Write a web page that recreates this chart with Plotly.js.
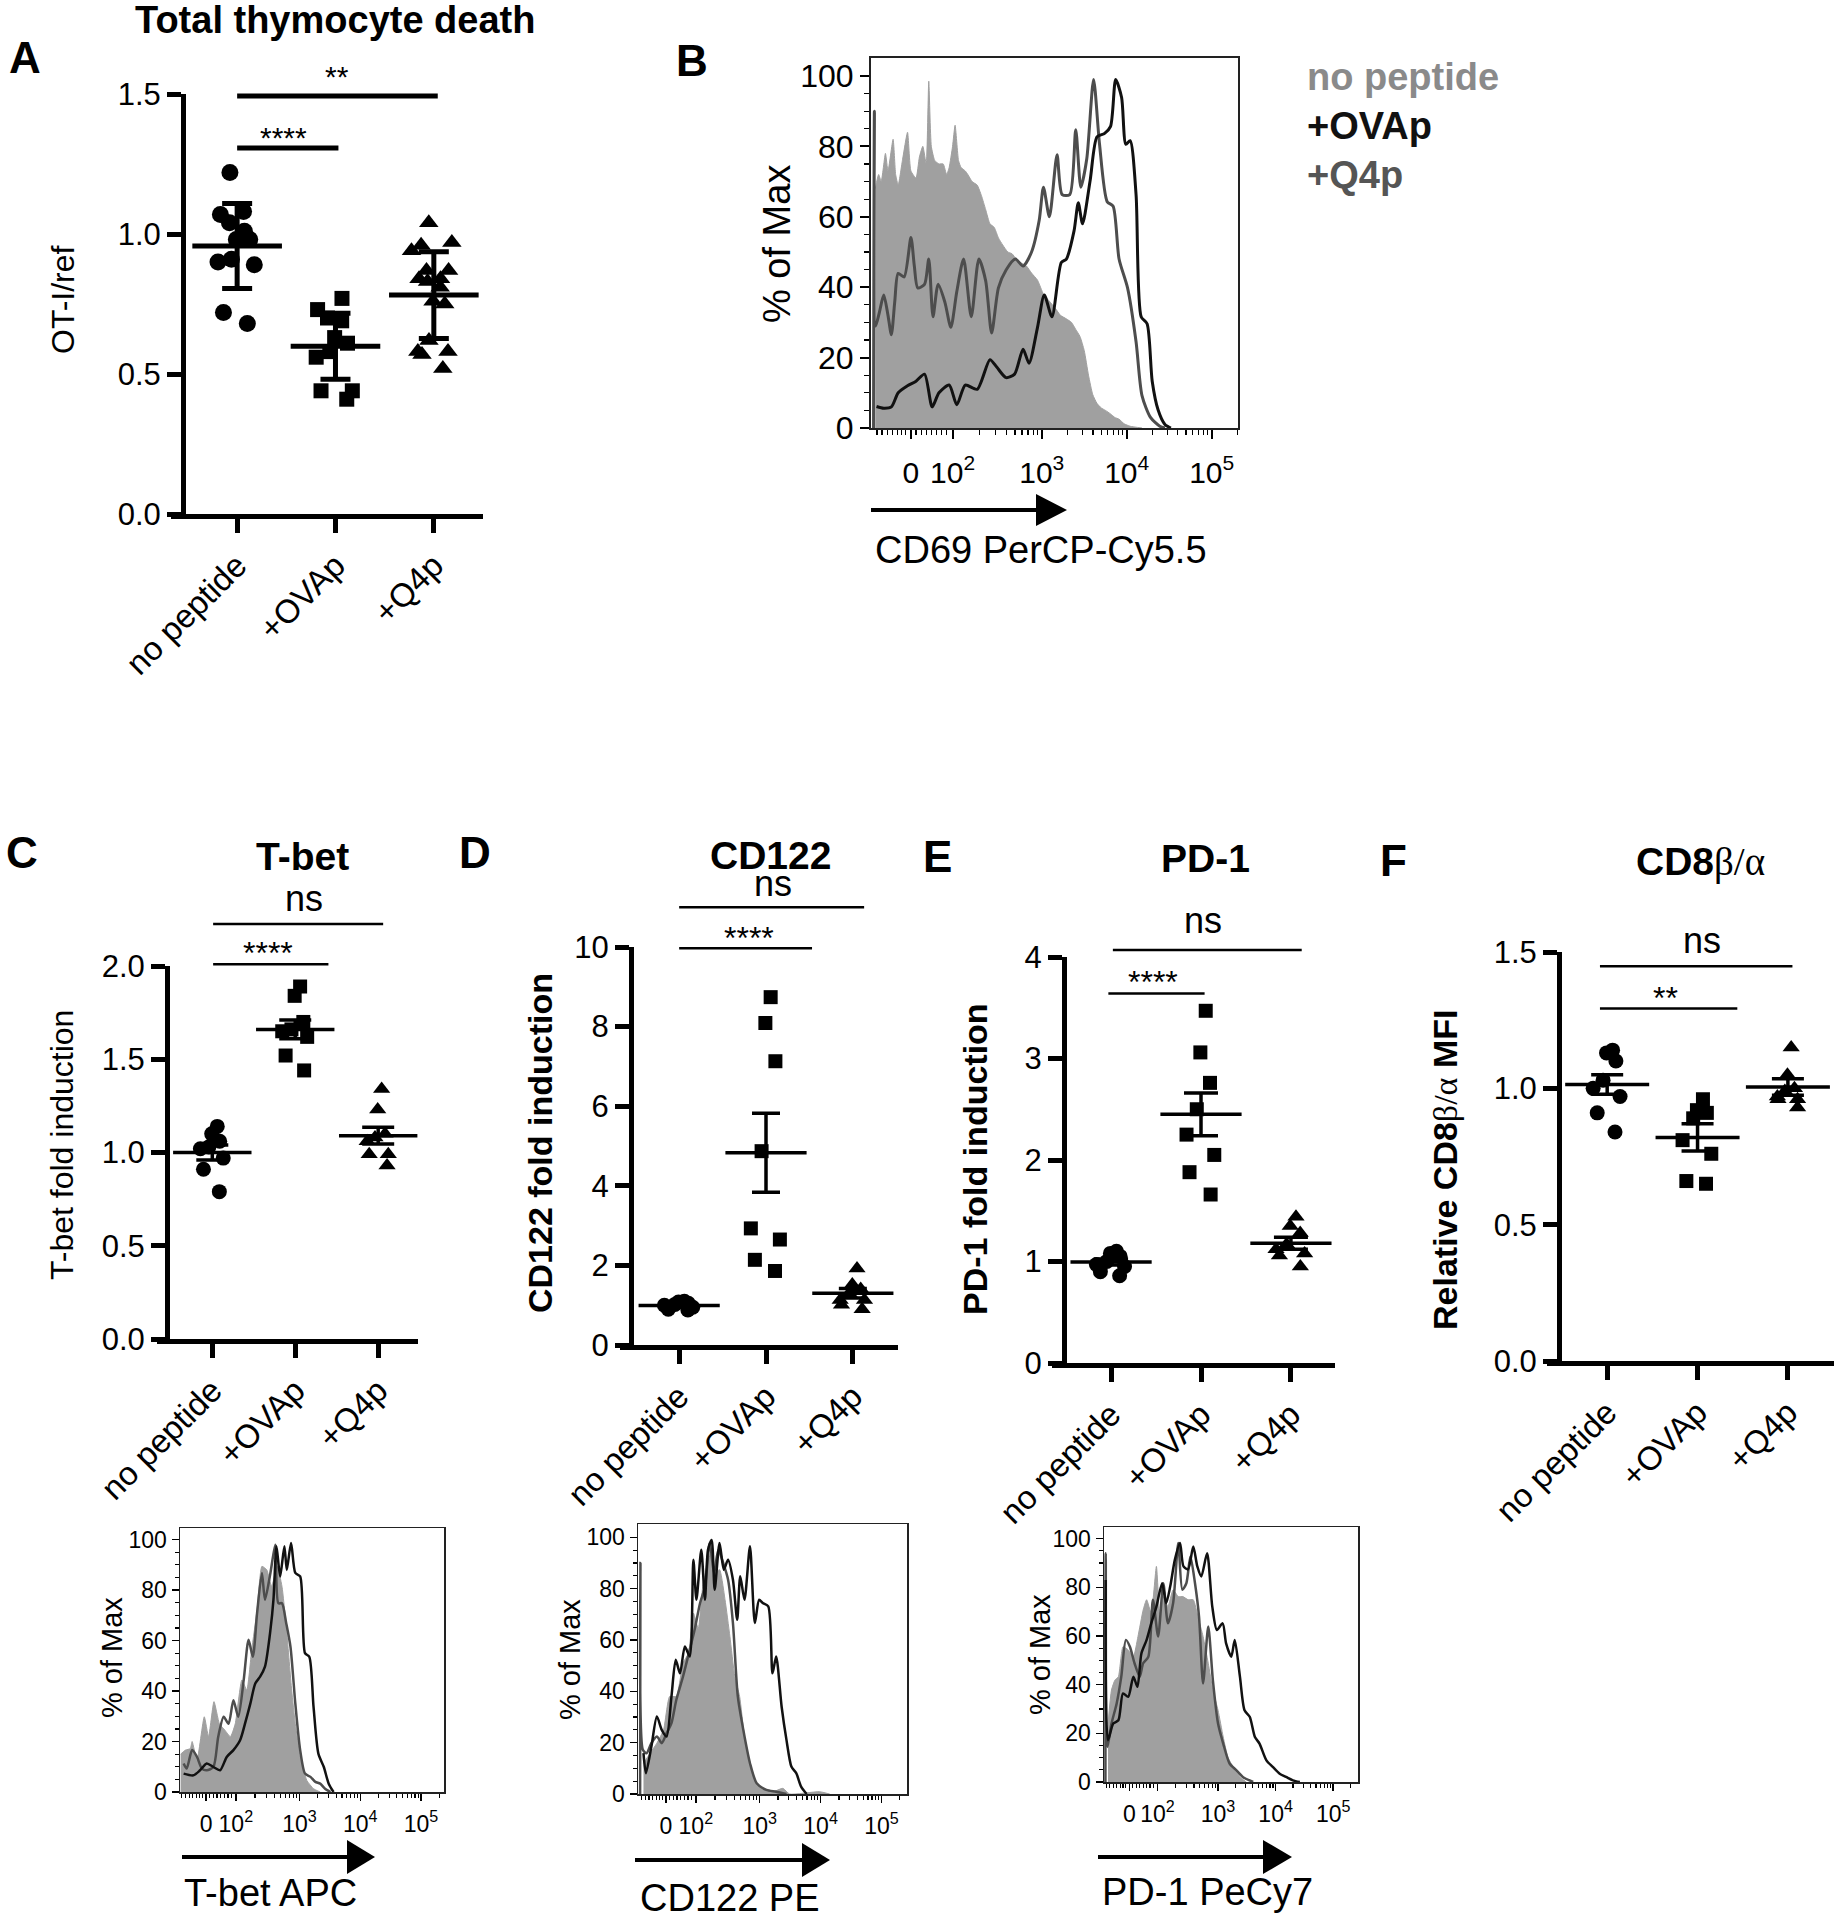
<!DOCTYPE html>
<html><head><meta charset="utf-8">
<script src="https://cdn.plot.ly/plotly-3.0.1.min.js"></script>
<style>html,body{margin:0;padding:0;background:#fff}#fig{width:1834px;height:1920px}</style>
</head><body><div id="fig"></div>
<script>
const W=1834,H=1920;
const categories=['no peptide','+OVAp','+Q4p'];

// ---- Panel A: Total thymocyte death (OT-I/ref), mean ± SD
const A_noPeptide=[1.22,1.08,1.07,1.04,1.01,0.98,0.98,0.91,0.90,0.89,0.72,0.68];
const A_OVAp=[0.77,0.73,0.70,0.69,0.63,0.61,0.58,0.56,0.44,0.44,0.41];
const A_Q4p=[1.04,0.97,0.96,0.94,0.87,0.87,0.84,0.84,0.83,0.81,0.76,0.75,0.62,0.58,0.58,0.57,0.52];
const A_mean=[0.957,0.599,0.782];
const A_sd=[0.152,0.118,0.155];

// ---- Panel C: T-bet fold induction, mean ± SEM
const C_noPeptide=[1.14,1.10,1.06,1.03,1.02,0.97,0.91,0.79];
const C_OVAp=[1.89,1.84,1.70,1.66,1.65,1.62,1.52,1.44];
const C_Q4p=[1.34,1.23,1.10,1.08,1.06,0.99,0.99,0.93];
const C_mean=[1.00,1.66,1.09];
const C_sem=[0.04,0.05,0.045];

// ---- Panel D: CD122 fold induction
const D_noPeptide=[1.10,1.08,1.05,1.02,1.00,0.95,0.90,0.88];
const D_OVAp=[8.74,8.09,7.13,4.87,2.93,2.65,2.14,1.86];
const D_Q4p=[1.92,1.52,1.41,1.30,1.13,1.13,1.01,0.90];
const D_mean=[0.99,4.83,1.30];
const D_sem=[0.03,0.99,0.12];

// ---- Panel E: PD-1 fold induction
const E_noPeptide=[1.10,1.08,1.05,1.00,0.97,0.95,0.90,0.86];
const E_OVAp=[3.47,3.06,2.76,2.50,2.25,2.05,1.88,1.66];
const E_Q4p=[1.44,1.35,1.28,1.17,1.12,1.08,1.06,0.95];
const E_mean=[0.995,2.45,1.18];
const E_sem=[0.03,0.21,0.06];

// ---- Panel F: Relative CD8b/a MFI
const F_noPeptide=[1.14,1.13,1.10,1.03,1.00,0.97,0.91,0.84];
const F_OVAp=[0.96,0.92,0.91,0.89,0.81,0.76,0.66,0.65];
const F_Q4p=[1.15,1.05,1.00,0.99,0.97,0.96,0.96,0.93];
const F_mean=[1.014,0.82,1.005];
const F_sem=[0.036,0.05,0.03];

// ---- Histograms (x in display decades of the biexponential axis, y in % of max)
const histTickVals=[1.46,1.95,3,4,5];
const histTickText=['0','10<sup>2</sup>','10<sup>3</sup>','10<sup>4</sup>','10<sup>5</sup>'];

// B: CD69
const B_noPeptide_x=[1.04,1.08,1.11,1.16,1.19,1.25,1.28,1.31,1.36,1.42,1.46,1.52,1.56,1.60,1.64,1.67,1.70,1.74,1.79,1.84,1.88,1.91,1.95,1.98,2.02,2.05,2.10,2.13,2.18,2.24,2.29,2.34,2.39,2.44,2.49,2.54,2.60,2.65,2.70,2.75,2.82,2.88,2.95,3.02,3.09,3.16,3.22,3.29,3.35,3.40,3.45,3.50,3.55,3.60,3.65,3.70,3.75,3.81,3.86,3.91,3.97,4.04,4.18];
const B_noPeptide_y=[68,72,70,78,73,82,72,69,76,84,73,71,77,80,75,98.5,80,76,75,75,72,74,80,86,76,74,73,72,70,69,66,62,58,57,54,52,50,49.5,48,47,46,44,42,38,36,34,32,31,30,28,26,22,15,9.5,7,5.7,5,4,3,2.5,1.2,0.5,0];
const B_Q4p_x=[1.02,1.03,1.045,1.09,1.14,1.19,1.23,1.27,1.31,1.38,1.46,1.50,1.54,1.62,1.67,1.72,1.78,1.86,1.93,2.00,2.08,2.17,2.26,2.34,2.41,2.49,2.58,2.69,2.78,2.88,2.97,3.02,3.09,3.18,3.24,3.33,3.40,3.46,3.53,3.61,3.68,3.77,3.84,3.91,4.01,4.11,4.18,4.28,4.39,4.45];
const B_Q4p_y=[0,90,29,33,37.8,32,26.5,36,43.9,42.9,54.1,46,39.8,40.8,48,31.6,40.8,35.7,28.6,38.8,48,31.6,48,41.8,27,39.8,44.9,48,46,50,59,68.4,60,77.6,66.3,66.3,84.7,68.4,76.5,99,80.6,64.3,63,48,39.8,24.5,9.2,3,0.5,0];
const B_OVAp_x=[1.055,1.14,1.23,1.31,1.42,1.52,1.62,1.71,1.79,1.91,2.00,2.10,2.24,2.39,2.47,2.58,2.68,2.78,2.85,2.95,3.03,3.12,3.23,3.29,3.38,3.43,3.48,3.57,3.65,3.74,3.81,3.87,3.94,3.99,4.04,4.11,4.17,4.24,4.30,4.37,4.45,4.52];
const B_OVAp_y=[6.1,5.6,6,10,12,13.3,15.3,6,10,12.2,6.6,12.2,11,19.4,17.3,14.3,15.3,22.4,18.4,28.6,37.8,31.6,47,48,56,64,58,70.4,82.7,83.7,85.7,99,93.9,80.6,81.6,66.3,31.6,29.6,13.3,5.1,1,0];

// C histogram: T-bet APC
const CH_noPeptide_x=[1.04,1.12,1.20,1.23,1.31,1.43,1.50,1.59,1.68,1.77,1.86,1.94,2.05,2.13,2.21,2.30,2.38,2.46,2.54,2.63,2.71,2.79,2.87,2.93,3.01,3.12,3.23,3.34];
const CH_noPeptide_y=[15,16.6,17.2,20,12.6,29.8,21.9,35.8,27,24.5,21.9,27,44.4,40.4,56,72.2,89.4,88,81.5,89.4,81.5,63,40.4,27,13.9,4.6,1.3,0];
const CH_Q4p_x=[1.09,1.14,1.23,1.31,1.39,1.47,1.58,1.66,1.75,1.83,1.91,1.99,2.08,2.16,2.23,2.30,2.38,2.43,2.52,2.60,2.65,2.71,2.78,2.85,2.93,3.01,3.09,3.18,3.26,3.34,3.42,3.51];
const CH_Q4p_y=[11.3,9.3,16.6,13.9,9.3,8.6,9.9,21.9,29.8,27,36.4,29.8,44.4,60.3,53.6,70.9,86.8,76.2,86.8,98,74.8,74.8,66.9,57.6,35.1,16.6,7.3,6,4,3.3,1.3,0];
const CH_OVAp_x=[1.09,1.25,1.36,1.47,1.58,1.69,1.80,1.91,2.02,2.10,2.19,2.27,2.35,2.43,2.52,2.57,2.62,2.68,2.75,2.79,2.86,2.93,3.01,3.09,3.16,3.23,3.31,3.40,3.48,3.56];
const CH_OVAp_y=[7.3,6.6,8.6,11.3,9.9,8.6,13.9,16.6,20.5,27,35.1,43,45.7,49.7,64.2,76.2,97.4,85.4,97.4,88,98.7,86.8,85.4,55,53.6,33.8,15.2,9.9,3.3,0];

// D histogram: CD122 PE
const DH_noPeptide_x=[1.09,1.20,1.31,1.42,1.52,1.63,1.74,1.83,1.91,1.99,2.07,2.15,2.21,2.26,2.34,2.43,2.51,2.59,2.67,2.75,2.84,2.92,3.00,3.11,3.22,3.38,3.49,3.98,4.15];
const DH_noPeptide_y=[12,15.9,19.8,25,38,38,51,54.9,70.5,64.5,82.2,90,95.2,86,87.4,75.7,61.4,45.8,38,22.4,12,5.5,2.9,1.6,0.9,2.2,0,0.9,0];
const DH_Q4p_x=[1.035,1.04,1.08,1.14,1.22,1.31,1.39,1.47,1.55,1.63,1.74,1.85,1.93,2.02,2.10,2.18,2.25,2.32,2.40,2.48,2.56,2.64,2.73,2.84,2.95,3.11,3.27,3.44];
const DH_Q4p_y=[0,90,17.2,15.9,19.8,22.4,19.8,23.7,27.6,36.7,45.8,56.2,64,74.4,80.9,97.8,86,95.2,90,83.5,66.6,38,25,12,4.2,1.6,0.9,0];
const DH_OVAp_x=[1.09,1.13,1.22,1.31,1.39,1.47,1.55,1.62,1.69,1.77,1.85,1.91,1.96,2.04,2.10,2.15,2.21,2.26,2.34,2.41,2.48,2.56,2.63,2.68,2.75,2.84,2.92,2.99,3.05,3.14,3.21,3.27,3.36,3.44,3.52,3.60,3.68,3.77];
const DH_OVAp_y=[15.9,8.1,18.5,30.2,25,22.4,38,52.3,47,57.5,53.6,91.3,75.7,95.2,75.7,95.2,99,79.6,97.8,87.4,91.3,83.5,67.9,84.8,75.7,96.5,66.6,75.7,74.4,73.1,47,53.6,34,21,10.7,8.1,2.9,0];

// E histogram: PD-1 PeCy7
const EH_noPeptide_x=[1.09,1.15,1.21,1.27,1.35,1.44,1.53,1.61,1.70,1.76,1.84,1.93,1.99,2.05,2.13,2.22,2.31,2.39,2.48,2.57,2.65,2.74,2.83,2.91,3.00,3.09,3.17,3.26,3.38,3.49];
const EH_noPeptide_y=[24,37.8,41.9,43.3,55.6,54.3,51.5,59.8,70.7,74.9,69.4,88.6,68,76.2,72.1,79,76.2,76.2,74.9,74.9,68,59.8,48.8,37.8,29.5,18.5,10.3,6.2,2.1,0];
const EH_Q4p_x=[1.045,1.05,1.08,1.15,1.24,1.32,1.40,1.47,1.55,1.64,1.70,1.79,1.87,1.96,2.05,2.13,2.22,2.31,2.38,2.45,2.52,2.60,2.67,2.74,2.83,2.91,3.00,3.09,3.20,3.32,3.43,3.61];
const EH_Q4p_y=[0,94,14.4,24,32.3,43.3,58.4,55.6,48.8,43.3,48.8,51.5,74.9,59.8,81.7,65.2,73.5,98.2,79,81.7,92.7,81.7,68,40.5,63.9,41.9,24,15.8,7.6,4.8,2.1,0];
const EH_OVAp_x=[1.05,1.09,1.18,1.27,1.35,1.44,1.53,1.60,1.67,1.76,1.84,1.93,2.03,2.10,2.17,2.25,2.34,2.40,2.48,2.57,2.64,2.71,2.81,2.90,2.98,3.08,3.14,3.23,3.29,3.38,3.46,3.55,3.64,3.72,3.84,3.95,4.07,4.18,4.30,4.42];
const EH_OVAp_y=[83,17.2,24,25.4,36.4,35,43.3,39.1,52.9,58.4,65.2,72.1,81.7,73.5,80.4,91.3,98.2,88.6,87.4,96.8,88.6,84.5,94,72.1,62.5,65.2,57,51.5,58.4,43.3,29.5,26.8,18.5,15.8,8.9,6.2,3.4,2.1,0.7,0];

// ================= drawing =================
const FONT='Liberation Sans, Arial, Helvetica, sans-serif';
const SERIF="Liberation Serif, Times New Roman, serif";
const px=x=>x/W, py=y=>1-y/H;
const layout={width:W,height:H,margin:{l:0,r:0,t:0,b:0,pad:0},paper_bgcolor:'#fff',plot_bgcolor:'rgba(0,0,0,0)',
  showlegend:false,boxmode:'overlay',font:{family:FONT,color:'#000'},annotations:[],shapes:[]};
const traces=[];
const ax=n=>n===1?'':String(n);

function dotPanel(n,g,sets,means,errs,o){
  const id=ax(n), xr='x'+id, yr='y'+id;
  layout['xaxis'+id]={domain:[px(g.x0),px(g.x1)],range:g.xr,type:'category',categoryorder:'array',categoryarray:categories,
    anchor:yr,showline:true,linewidth:5,linecolor:'#000',ticks:'outside',ticklen:14,tickwidth:5,tickcolor:'#000',
    tickangle:-45,tickfont:{size:o.catSize,color:'#000'},showgrid:false,zeroline:false,fixedrange:true};
  layout['yaxis'+id]={domain:[py(g.y1),py(g.y0)],range:g.yr,anchor:xr,showline:true,linewidth:5,linecolor:'#000',
    ticks:'outside',ticklen:14,tickwidth:5,tickcolor:'#000',tickmode:'array',tickvals:o.tickvals,tickformat:o.fmt,
    tickfont:{size:o.tickSize,color:'#000'},showgrid:false,zeroline:false,fixedrange:true};
  const syms=['circle','square','triangle-up'];
  sets.forEach((vals,i)=>{
    traces.push({type:'box',x:vals.map(()=>categories[i]),y:vals,xaxis:xr,yaxis:yr,boxpoints:'all',jitter:o.jitter,
      pointpos:0,width:o.boxW,line:{color:'rgba(0,0,0,0)',width:0},fillcolor:'rgba(0,0,0,0)',whiskerwidth:0,
      marker:{symbol:syms[i],size:o.msize[i],color:'#000',line:{width:0}},hoverinfo:'y'});
  });
  traces.push({type:'scatter',mode:'markers',x:categories,y:means,xaxis:xr,yaxis:yr,cliponaxis:false,
    marker:{symbol:'line-ew-open',size:o.meanW,color:'#000',line:{color:'#000',width:o.th}},
    error_y:{type:'data',array:errs,visible:true,color:'#000',thickness:o.th,width:o.cap}});
  layout.shapes.push({type:'line',xref:'paper',yref:'paper',x0:px(g.ov),x1:px(g.x0),y0:py(g.y1+2.5),y1:py(g.y1+2.5),line:{color:'#000',width:5}});
}

function sig(n,g,x0,x1,yv,lw,text,tx,ty,fs){
  const id=ax(n), xr='x'+id, yd='y'+id+' domain';
  const f=v=>(v-g.yr[0])/(g.yr[1]-g.yr[0]);
  layout.shapes.push({type:'line',xref:xr,yref:yd,x0:x0,x1:x1,y0:f(yv),y1:f(yv),line:{color:'#000',width:lw}});
  layout.annotations.push({xref:xr,yref:yd,x:tx,y:f(ty),text:text,showarrow:false,font:{size:fs,color:'#000'},xanchor:'center',yanchor:'middle'});
}

const minorHistX=(()=>{const a=[1.06,1.12,1.18,1.24,1.30,1.35,1.40,1.52,1.58,1.64,1.70,1.76,1.82,1.88];
  for(let m=2;m<10;m++){a.push(1.95+1.05*Math.log10(m));a.push(3+Math.log10(m));a.push(4+Math.log10(m));}
  a.push(5+Math.log10(2));return a;})();
const pctTicks=[0,20,40,60,80,100];
const minorPct=[];for(let v=5;v<100;v+=5){if(v%20)minorPct.push(v);}

function histPanel(n,g,s,series){
  const id=ax(n), xr='x'+id, yr='y'+id;
  layout['xaxis'+id]={domain:[px(g.x0),px(g.x1)],range:g.xr,anchor:yr,tickmode:'array',tickvals:histTickVals,ticktext:histTickText,
    ticks:'outside',ticklen:s.tl,tickwidth:s.tw,tickcolor:'#000',showline:true,mirror:true,linewidth:s.lw,linecolor:'#222',
    showgrid:false,zeroline:false,tickfont:{size:s.xt,color:'#000'},ticklabelstandoff:s.so,fixedrange:true,
    minor:{tickmode:'array',tickvals:minorHistX,ticks:'outside',ticklen:s.mtl,tickwidth:1.2,tickcolor:'#000',showgrid:false}};
  layout['yaxis'+id]={domain:[py(g.y1),py(g.y0)],range:[0,g.top],anchor:xr,tickmode:'array',tickvals:pctTicks,
    ticks:'outside',ticklen:s.tl,tickwidth:s.tw,tickcolor:'#000',showline:true,mirror:true,linewidth:s.lw,linecolor:'#222',
    showgrid:false,zeroline:false,tickfont:{size:s.yt,color:'#000'},fixedrange:true,
    minor:{tickmode:'array',tickvals:minorPct,ticks:'outside',ticklen:s.mtl,tickwidth:1.2,tickcolor:'#000',showgrid:false}};
  traces.push({type:'scatter',mode:'lines',x:series[0],y:series[1],xaxis:xr,yaxis:yr,fill:'tozeroy',fillcolor:'#a0a0a0',line:{color:'#a0a0a0',width:1,shape:'spline',smoothing:0.5},hoverinfo:'skip'});
  traces.push({type:'scatter',mode:'lines',x:series[2],y:series[3],xaxis:xr,yaxis:yr,line:{color:'#4d4d4d',width:s.clw,shape:'spline',smoothing:0.7},hoverinfo:'skip'});
  traces.push({type:'scatter',mode:'lines',x:series[4],y:series[5],xaxis:xr,yaxis:yr,line:{color:'#111',width:s.clw,shape:'spline',smoothing:0.7},hoverinfo:'skip'});
}

function text(x,y,t,size,opts){
  layout.annotations.push(Object.assign({xref:'paper',yref:'paper',x:px(x),y:py(y),text:t,showarrow:false,
    font:{size:size,color:'#000',family:FONT},xanchor:'center',yanchor:'middle'},opts||{}));
}
function vtext(x,y,t,size,opts){ text(x,y,t,size,Object.assign({textangle:-90},opts||{})); }
function arrow(x0,x1,xt,y,hh){
  layout.shapes.push({type:'line',xref:'paper',yref:'paper',x0:px(x0),x1:px(x1+2),y0:py(y),y1:py(y),line:{color:'#000',width:4}});
  layout.shapes.push({type:'path',xref:'paper',yref:'paper',fillcolor:'#000',line:{width:0},
    path:`M ${px(x1)} ${py(y-hh)} L ${px(xt)} ${py(y)} L ${px(x1)} ${py(y+hh)} Z`});
}

// ---- geometry (pixel boxes)
const gA={x0:186,x1:483,y0:94,y1:514,ov:171,xr:[-0.52,2.5],yr:[0,1.5]};
const gC={x0:170,x1:418,y0:966,y1:1339,ov:157,xr:[-0.51,2.48],yr:[0,2]};
const gD={x0:634,x1:898,y0:947,y1:1345,ov:620,xr:[-0.52,2.52],yr:[0,10]};
const gE={x0:1067,x1:1335,y0:957,y1:1363,ov:1052,xr:[-0.49,2.49],yr:[0,4]};
const gF={x0:1562,x1:1834,y0:952,y1:1361,ov:1547,xr:[-0.5,2.51],yr:[0,1.5]};

dotPanel(1,gA,[A_noPeptide,A_OVAp,A_Q4p],A_mean,A_sd,{catSize:33,tickSize:31,tickvals:[0,0.5,1,1.5],fmt:'.1f',jitter:0.85,boxW:0.6,msize:[17,15,17],meanW:64,th:5,cap:15});
dotPanel(3,gC,[C_noPeptide,C_OVAp,C_Q4p],C_mean,C_sem,{catSize:33,tickSize:31,tickvals:[0,0.5,1,1.5,2],fmt:'.1f',jitter:0.75,boxW:0.55,msize:[15,14,15],meanW:56,th:3.5,cap:16});
dotPanel(4,gD,[D_noPeptide,D_OVAp,D_Q4p],D_mean,D_sem,{catSize:33,tickSize:31,tickvals:[0,2,4,6,8,10],fmt:'',jitter:0.75,boxW:0.55,msize:[15,14,15],meanW:58,th:3.5,cap:14});
dotPanel(5,gE,[E_noPeptide,E_OVAp,E_Q4p],E_mean,E_sem,{catSize:33,tickSize:31,tickvals:[0,1,2,3,4],fmt:'',jitter:0.75,boxW:0.55,msize:[15,14,15],meanW:58,th:3.5,cap:17});
dotPanel(6,gF,[F_noPeptide,F_OVAp,F_Q4p],F_mean,F_sem,{catSize:33,tickSize:31,tickvals:[0,0.5,1,1.5],fmt:'.1f',jitter:0.75,boxW:0.55,msize:[15,14,15],meanW:60,th:3.5,cap:16});

// significance bars
sig(1,gA,0,1.03,1.307,5,'****',0.47,1.346,30);
sig(1,gA,0,2.04,1.493,5,'**',1.02,1.561,30);
sig(3,gC,0.01,1.40,2.01,2.5,'****',0.67,2.07,32);
sig(3,gC,0.01,2.06,2.225,2.5,'ns',1.10,2.36,36);
sig(4,gD,0,1.53,9.97,2.5,'****',0.80,10.22,32);
sig(4,gD,0,2.13,11.0,2.5,'ns',1.08,11.6,36);
sig(5,gE,-0.03,1.04,3.64,2.5,'****',0.47,3.75,32);
sig(5,gE,0.02,2.12,4.07,2.5,'ns',1.02,4.36,36);
sig(6,gF,-0.08,1.44,1.293,2.5,'**',0.64,1.331,32);
sig(6,gF,-0.08,2.05,1.448,2.5,'ns',1.05,1.544,36);

// histograms
const gB={x0:871,x1:1238,y0:58,y1:428,xr:[0.99,5.31],top:105.1};
const gCH={x0:180,x1:444,y0:1528,y1:1792,xr:[1.03,5.38],top:104.6};
const gDH={x0:638,x1:907,y0:1524,y1:1794,xr:[1.0,5.42],top:105.2};
const gEH={x0:1104,x1:1358,y0:1527,y1:1782,xr:[1.02,5.43],top:104.8};
histPanel(2,gB,{tl:9,tw:2,lw:2,mtl:5,xt:30,yt:32,so:8,clw:3},[B_noPeptide_x,B_noPeptide_y,B_Q4p_x,B_Q4p_y,B_OVAp_x,B_OVAp_y]);
histPanel(7,gCH,{tl:7,tw:1.5,lw:1.5,mtl:4,xt:23,yt:23,so:4,clw:2.5},[CH_noPeptide_x,CH_noPeptide_y,CH_Q4p_x,CH_Q4p_y,CH_OVAp_x,CH_OVAp_y]);
histPanel(8,gDH,{tl:7,tw:1.5,lw:1.5,mtl:4,xt:23,yt:23,so:4,clw:2.5},[DH_noPeptide_x,DH_noPeptide_y,DH_Q4p_x,DH_Q4p_y,DH_OVAp_x,DH_OVAp_y]);
histPanel(9,gEH,{tl:7,tw:1.5,lw:1.5,mtl:4,xt:23,yt:23,so:4,clw:2.5},[EH_noPeptide_x,EH_noPeptide_y,EH_Q4p_x,EH_Q4p_y,EH_OVAp_x,EH_OVAp_y]);

// arrows + channel labels
arrow(871,1036,1067,510,16);
arrow(182,347,375,1857,17);
arrow(635,802,830,1860,17);
arrow(1098,1263,1292,1857,17);
text(873,550,'CD69 PerCP-Cy5.5',38,{xanchor:'left'});
text(182,1893,'T-bet APC',38,{xanchor:'left'});
text(638,1898,'CD122 PE',38,{xanchor:'left'});
text(1100,1892,'PD-1 PeCy7',38,{xanchor:'left'});

// legend of B
text(1305,77,'<b>no peptide</b>',38,{xanchor:'left',font:{size:38,color:'#8a8a8a',family:FONT}});
text(1305,126,'<b>+OVAp</b>',38,{xanchor:'left',font:{size:38,color:'#111',family:FONT}});
text(1305,175,'<b>+Q4p</b>',38,{xanchor:'left',font:{size:38,color:'#555',family:FONT}});

// panel letters and titles
text(335,20,'<b>Total thymocyte death</b>',38);
text(25,58,'<b>A</b>',44); text(692,60,'<b>B</b>',44); text(22,852,'<b>C</b>',44);
text(475,852,'<b>D</b>',44); text(937,857,'<b>E</b>',44); text(1393,860,'<b>F</b>',44);
text(302,857,'<b>T-bet</b>',39); text(770,855,'<b>CD122</b>',39); text(1205,858,'<b>PD-1</b>',39);
text(1700,862,`<b>CD8</b><span style="font-family:${SERIF};font-weight:normal">β/α</span>`,39);

// y-axis titles
vtext(63,300,'OT-I/ref',32);
vtext(777,244,'% of Max',38);
vtext(62,1145,'T-bet fold induction',32);
vtext(540,1143,'<b>CD122 fold induction</b>',34);
vtext(975,1159,'<b>PD-1 fold induction</b>',34);
vtext(1445,1170,`<b>Relative CD8</b><span style="font-family:${SERIF};font-weight:normal">β/α</span><b> MFI</b>`,34);
vtext(112,1658,'% of Max',29);
vtext(570,1660,'% of Max',29);
vtext(1040,1655,'% of Max',29);

Plotly.newPlot('fig',traces,layout,{staticPlot:true,displayModeBar:false});
</script></body></html>
